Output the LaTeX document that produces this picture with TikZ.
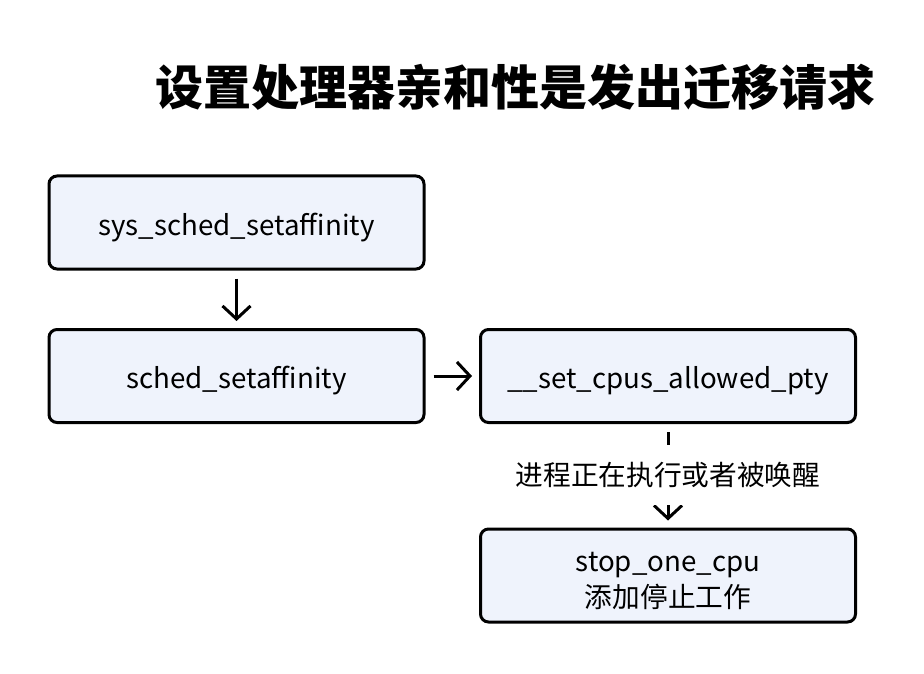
\documentclass[tikz,border=0pt]{standalone}
\usepackage{fontspec}
\setmainfont{Noto Sans CJK SC}
\usetikzlibrary{arrows.meta}
\definecolor{boxfill}{HTML}{EFF3FC}
\definecolor{ink}{HTML}{000000}
\begin{document}
\begin{tikzpicture}[x=1pt,y=1pt,
  box/.style={draw=ink, line width=3pt, rounded corners=8pt, fill=boxfill,
    minimum width=375pt, minimum height=93pt, inner sep=0pt, align=center,
    text height=25pt, text depth=0pt,
    font=\fontsize{27.7}{36}\selectfont},
  btext/.style={anchor=base, inner sep=0pt, font=\fontsize{27.7}{36}\selectfont},
  conn/.style={draw=ink, line width=3pt, -{Straight Barb[length=13pt,width=28pt]}, shorten <=8pt, shorten >=7pt},
  elabel/.style={fill=white, inner xsep=2pt, inner ysep=0pt, text height=40pt, text depth=20pt, font=\fontsize{27.7}{33}\selectfont}
]
\useasboundingbox (0,0) rectangle (924,-674);
\node[font=\fontsize{48}{57}\selectfont\bfseries] (title) at (515.5,-87) {设置处理器亲和性是发出迁移请求};
\node[box] (b1) at (236.5,-222.5) {sys\_sched\_setaffinity};
\node[box] (b2) at (236.5,-376) {sched\_setaffinity};
\node[box] (b3) at (668,-376) {\_\_set\_cpus\_allowed\_pty};
\node[box] (b4) at (668,-575.5) {};
\node[btext] (b4a) at (668,-571) {stop\_one\_cpu};
\node[btext] (b4b) at (668,-607) {添加停止工作};
\draw[conn] (b1) -- (b2);
\draw[conn] (b2) -- (b3);
\draw[conn] (b3) -- node[elabel, pos=0.493] (lab) {进程正在执行或者被唤醒} (b4);
\end{tikzpicture}
\end{document}
